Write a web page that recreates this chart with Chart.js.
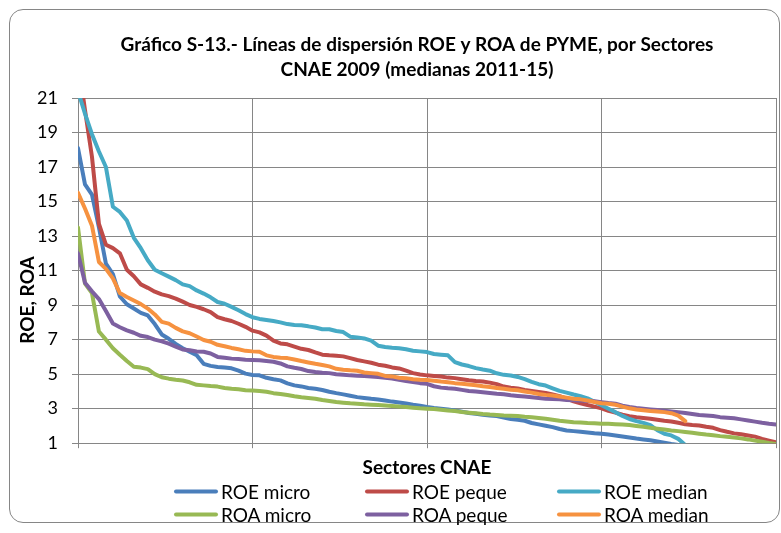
<!DOCTYPE html>
<html lang="es">
<head>
<meta charset="utf-8">
<title>ROE y ROA de PYME por sectores CNAE</title>
<script src="https://cdn.jsdelivr.net/npm/chart.js@4.4.1/dist/chart.umd.min.js"></script>
<style>
  html, body { margin: 0; padding: 0; background: #fff; }
  #wrap { position: relative; width: 781px; height: 533px; overflow: hidden; }
  #frame {
    position: absolute; left: 9px; top: 9px; width: 771px; height: 514px;
    box-sizing: border-box; border: 1px solid #868686; border-radius: 14px;
  }
  #chart { position: absolute; left: 0; top: 0; }
  #legend { position: absolute; left: 0; top: 0; width: 781px; height: 533px; pointer-events: none; }
  #legend .item {
    position: absolute; display: flex; align-items: center; white-space: nowrap;
    transform: translateY(-50%); font-family: Lato, sans-serif; font-size: 19px; color: #000;
  }
  #legend .swatch { display: inline-block; width: 44px; height: 4px; border-radius: 2px; margin-right: 3px; }
</style>
</head>
<body>
<div id="wrap">
  <div id="frame"></div>
  <canvas id="chart" width="781" height="533"></canvas>
  <div id="legend"></div>
</div>
<script>
// Sectors are ranked by value, so the x axis is just the sector position.
const sectores = Array.from({ length: 101 }, (_, i) => i + 1);

const tituloLineas = [
  'Gráfico S-13.- Líneas de dispersión ROE y ROA de PYME, por Sectores',
  'CNAE 2009 (medianas 2011-15)'
];
const tituloX = 'Sectores CNAE';
const tituloY = 'ROE, ROA';

const nombresSeries = ['ROE micro', 'ROE peque', 'ROE median', 'ROA micro', 'ROA peque', 'ROA median'];
const coloresSeries = ['#4A7EBB', '#BE4B48', '#46AAC5', '#98B954', '#7D60A0', '#F69240'];

// Medians 2011-15 (%), one value per sector, sorted from highest to lowest.
const roeMicro = [
  18.1, 16.0, 15.4, 13.5, 11.4, 10.8, 9.5, 9.05, 8.8, 8.55,
  8.4, 7.9, 7.3, 7.05, 6.75, 6.5, 6.3, 6.1, 5.6, 5.48,
  5.42, 5.38, 5.34, 5.2, 5.03, 4.95, 4.93, 4.79, 4.71, 4.64,
  4.47, 4.35, 4.29, 4.2, 4.15, 4.08, 3.98, 3.9, 3.83, 3.75,
  3.67, 3.62, 3.57, 3.53, 3.47, 3.41, 3.36, 3.3, 3.23, 3.17,
  3.1, 3.04, 3.0, 2.96, 2.9, 2.83, 2.75, 2.71, 2.65, 2.61,
  2.57, 2.48, 2.4, 2.36, 2.3, 2.17, 2.09, 2.01, 1.93, 1.82,
  1.74, 1.7, 1.66, 1.62, 1.58, 1.55, 1.5, 1.45, 1.39, 1.33,
  1.27, 1.22, 1.17, 1.1, 1.03, 0.96, 0.9
];
const roePeque = [
  23.2, 20.3, 17.6, 13.7, 12.5, 12.3, 12.0, 11.05, 10.67, 10.2,
  10.0, 9.78, 9.62, 9.52, 9.38, 9.2, 9.01, 8.9, 8.76, 8.6,
  8.3, 8.18, 8.08, 7.92, 7.74, 7.52, 7.42, 7.23, 6.94, 6.78,
  6.73, 6.6, 6.47, 6.4, 6.26, 6.13, 6.09, 6.07, 6.03, 5.93,
  5.82, 5.74, 5.66, 5.55, 5.49, 5.39, 5.33, 5.2, 5.06, 4.98,
  4.93, 4.9, 4.86, 4.8, 4.77, 4.71, 4.65, 4.6, 4.58, 4.51,
  4.42, 4.28, 4.22, 4.17, 4.09, 4.03, 3.97, 3.91, 3.82, 3.72,
  3.58, 3.43, 3.31, 3.21, 3.12, 3.02, 2.88, 2.77, 2.65, 2.57,
  2.5, 2.46, 2.42, 2.36, 2.3, 2.26, 2.18, 2.1, 2.06, 2.03,
  1.95, 1.89, 1.76, 1.66, 1.57, 1.52, 1.45, 1.38, 1.25, 1.15,
  1.05
];
const roeMedian = [
  21.4, 20.1, 18.9, 17.9, 17.0, 14.7, 14.4, 13.9, 12.9, 12.3,
  11.6, 11.05, 10.85, 10.65, 10.45, 10.2, 10.1, 9.85, 9.67, 9.45,
  9.18, 9.08, 8.9, 8.7, 8.48, 8.3, 8.2, 8.14, 8.08, 8.0,
  7.9, 7.85, 7.83, 7.77, 7.7, 7.6, 7.6, 7.5, 7.44, 7.17,
  7.13, 7.07, 6.94, 6.65, 6.57, 6.53, 6.5, 6.44, 6.36, 6.32,
  6.28, 6.17, 6.13, 6.09, 5.7, 5.56, 5.47, 5.35, 5.27, 5.2,
  5.05, 4.96, 4.92, 4.84, 4.71, 4.55, 4.42, 4.34, 4.18, 4.03,
  3.93, 3.82, 3.72, 3.6, 3.4, 3.2, 3.0, 2.8, 2.58, 2.4,
  2.28, 2.18, 2.05, 1.75, 1.55, 1.45, 1.25, 0.9
];
const roaMicro = [
  13.5, 10.25, 9.7, 7.47, 7.0, 6.5, 6.12, 5.76, 5.43, 5.38,
  5.29, 5.0, 4.82, 4.74, 4.68, 4.63, 4.53, 4.38, 4.35, 4.31,
  4.28, 4.2, 4.15, 4.12, 4.07, 4.05, 4.02, 3.98, 3.9, 3.85,
  3.79, 3.72, 3.66, 3.62, 3.58, 3.5, 3.45, 3.39, 3.35, 3.31,
  3.29, 3.25, 3.23, 3.21, 3.19, 3.16, 3.12, 3.1, 3.06, 3.02,
  3.0, 2.98, 2.94, 2.9, 2.86, 2.81, 2.77, 2.73, 2.69, 2.66,
  2.64, 2.61, 2.59, 2.57, 2.53, 2.5, 2.46, 2.42, 2.36, 2.3,
  2.26, 2.22, 2.2, 2.17, 2.15, 2.13, 2.12, 2.1, 2.08, 2.05,
  2.0, 1.95, 1.89, 1.84, 1.79, 1.74, 1.7, 1.65, 1.6, 1.55,
  1.5, 1.46, 1.41, 1.37, 1.33, 1.28, 1.22, 1.15, 1.08, 1.01,
  0.95
];
const roaPeque = [
  12.0, 10.3, 9.8, 9.35, 8.66, 7.93, 7.72, 7.54, 7.4, 7.22,
  7.15, 7.0, 6.9, 6.77, 6.6, 6.43, 6.38, 6.31, 6.3, 6.2,
  6.0, 5.95, 5.9, 5.88, 5.84, 5.82, 5.8, 5.76, 5.72, 5.62,
  5.45, 5.37, 5.3, 5.18, 5.12, 5.08, 5.06, 5.0, 4.97, 4.93,
  4.91, 4.89, 4.87, 4.83, 4.79, 4.75, 4.67, 4.6, 4.54, 4.48,
  4.44, 4.3, 4.22, 4.18, 4.15, 4.09, 4.03, 3.99, 3.95, 3.91,
  3.87, 3.84, 3.78, 3.74, 3.7, 3.66, 3.62, 3.58, 3.56, 3.54,
  3.5, 3.49, 3.47, 3.45, 3.43, 3.38, 3.33, 3.29, 3.17, 3.1,
  3.04, 3.0, 2.96, 2.92, 2.88, 2.84, 2.8, 2.75, 2.69, 2.63,
  2.61, 2.57, 2.51, 2.48, 2.44, 2.38, 2.32, 2.25, 2.18, 2.13,
  2.09
];
const roaMedian = [
  15.5, 14.6, 13.6, 11.5, 11.1, 10.55, 9.7, 9.47, 9.27, 9.06,
  8.8, 8.46, 8.03, 7.93, 7.68, 7.48, 7.37, 7.18, 6.98, 6.88,
  6.7, 6.62, 6.52, 6.44, 6.35, 6.32, 6.3, 6.09, 6.0, 5.95,
  5.93, 5.85, 5.76, 5.68, 5.6, 5.53, 5.45, 5.31, 5.26, 5.22,
  5.2, 5.1, 5.06, 5.02, 4.9, 4.87, 4.79, 4.77, 4.71, 4.68,
  4.66, 4.62, 4.57, 4.53, 4.48, 4.44, 4.4, 4.36, 4.3, 4.26,
  4.2, 4.15, 4.1, 4.07, 4.0, 3.93, 3.85, 3.8, 3.76, 3.7,
  3.64, 3.58, 3.54, 3.47, 3.39, 3.32, 3.29, 3.23, 3.12, 3.02,
  2.95, 2.91, 2.87, 2.84, 2.8, 2.74, 2.6, 2.28
];
const seriesValores = [roeMicro, roePeque, roeMedian, roaMicro, roaPeque, roaMedian];

const FONT = 'Lato, "Liberation Sans", sans-serif';
const GRID = '#868686';

// Legend laid out as a 3 x 2 grid under the x-axis title.
const htmlLegend = {
  id: 'htmlLegend',
  afterUpdate(chart, args, opts) {
    const box = document.getElementById(opts.containerID);
    box.innerHTML = '';
    chart.data.datasets.forEach((ds, i) => {
      const item = document.createElement('div');
      item.className = 'item';
      item.style.left = opts.columns[i % 3] + 'px';
      item.style.top = opts.rows[Math.floor(i / 3)] + 'px';
      const sw = document.createElement('span');
      sw.className = 'swatch';
      sw.style.background = ds.borderColor;
      const tx = document.createElement('span');
      tx.textContent = ds.label;
      item.append(sw, tx);
      box.append(item);
    });
  }
};

// Rotated caption for the value axis, placed freely beside the tick labels.
const yCaption = {
  id: 'yCaption',
  afterDraw(chart, args, o) {
    const ctx = chart.ctx;
    ctx.save();
    ctx.translate(o.x, o.y);
    ctx.rotate(-Math.PI / 2);
    ctx.font = o.font;
    ctx.fillStyle = o.color;
    ctx.textAlign = 'center';
    ctx.textBaseline = 'middle';
    ctx.fillText(o.text, 0, 0);
    ctx.restore();
  }
};

// Moves the title block sideways after layout.
const titleShift = {
  id: 'titleShift',
  afterLayout(chart, args, o) {
    const t = chart.titleBlock;
    if (t) { t.left += o.dx; t.right += o.dx; }
  }
};

new Chart(document.getElementById('chart'), {
  type: 'line',
  data: {
    labels: sectores,
    datasets: seriesValores.map((vals, i) => ({
      label: nombresSeries[i],
      data: vals,
      borderColor: coloresSeries[i],
      backgroundColor: coloresSeries[i],
      borderWidth: 4,
      pointRadius: 0,
      tension: 0,
      fill: false,
      borderJoinStyle: 'round',
      borderCapStyle: 'round',
      clip: 0,
      order: seriesValores.length - i
    }))
  },
  options: {
    responsive: false,
    animation: false,
    events: [],
    layout: { padding: { left: 0, right: 5, top: 0, bottom: 54 } },
    plugins: {
      legend: { display: false },
      tooltip: { enabled: false },
      title: {
        display: true,
        text: tituloLineas,
        color: '#000',
        font: { family: FONT, size: 19, weight: 'bold', lineHeight: '25px' },
        padding: { top: 32, bottom: 16 }
      },
      titleShift: { dx: 29 },
      yCaption: { text: tituloY, x: 28, y: 300, font: 'bold 19px ' + FONT, color: '#000' },
      htmlLegend: { containerID: 'legend', columns: [174, 365, 557], rows: [491, 514] }
    },
    scales: {
      x: {
        type: 'category',
        offset: false,
        ticks: { display: false, autoSkip: false },
        grid: {
          color: (c) => (c.index % 25 === 0 ? GRID : 'rgba(0,0,0,0)'),
          lineWidth: 1,
          tickLength: 5
        },
        border: { color: GRID, width: 1 },
        title: {
          display: true,
          text: tituloX,
          color: '#000',
          font: { family: FONT, size: 19, weight: 'bold', lineHeight: 1.2 },
          padding: { top: 8, bottom: 0 }
        }
      },
      y: {
        min: 1,
        max: 21,
        ticks: { stepSize: 2, color: '#000', font: { family: FONT, size: 18 }, padding: 14 },
        grid: { color: GRID, lineWidth: 1, tickLength: 6 },
        border: { color: GRID, width: 1 },
        afterFit: (scale) => { scale.width = 78; }
      }
    }
  },
  plugins: [htmlLegend, yCaption, titleShift]
});
</script>
</body>
</html>
